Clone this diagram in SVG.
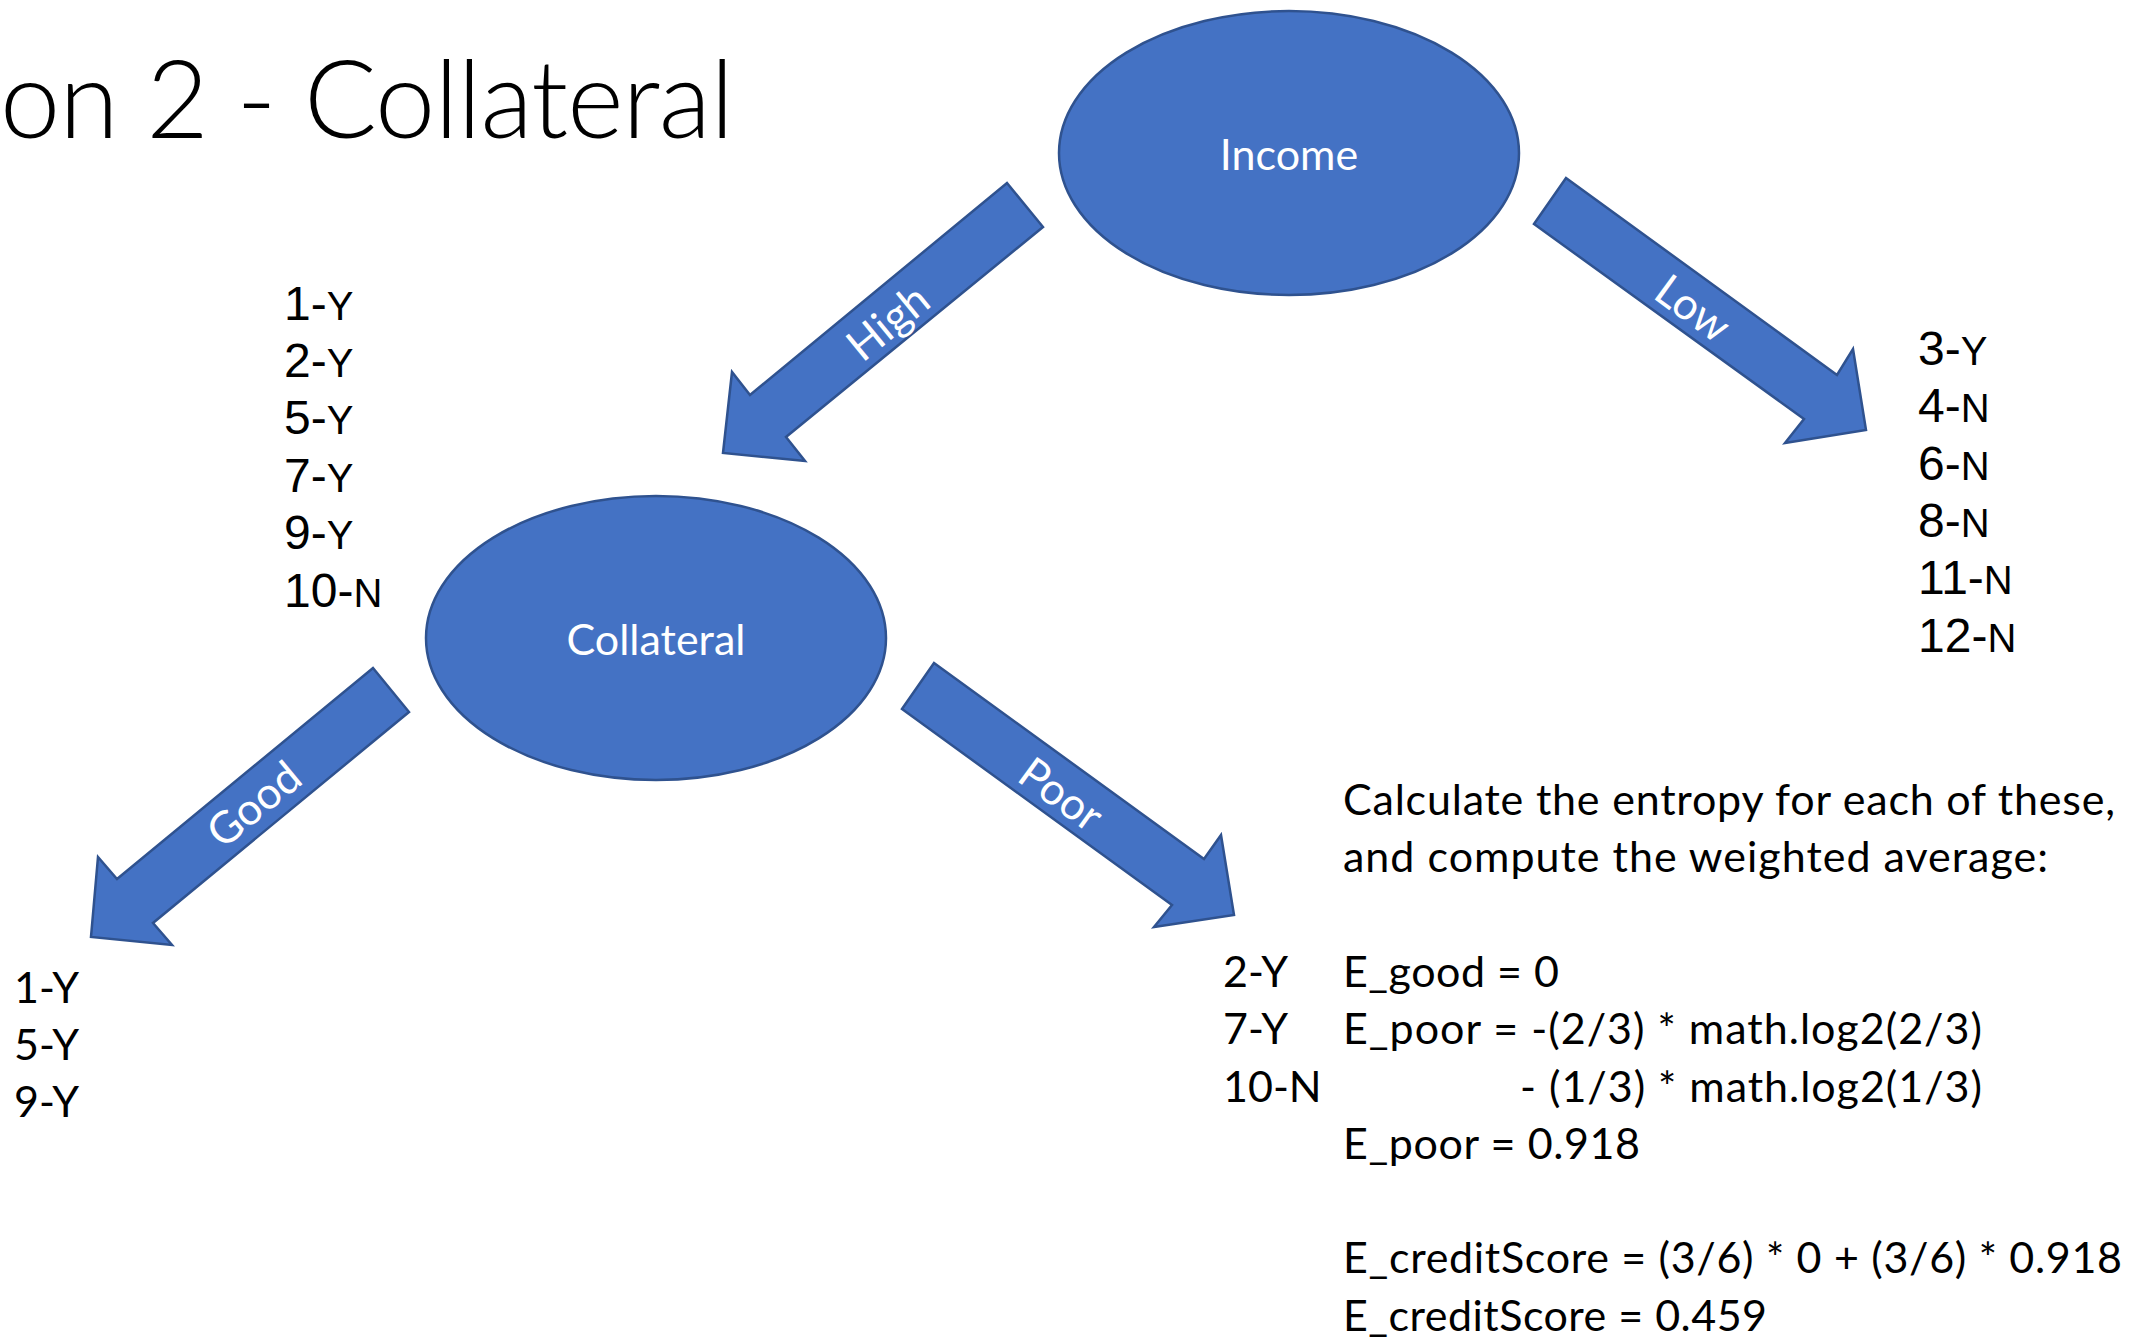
<svg xmlns="http://www.w3.org/2000/svg" width="2147" height="1339" viewBox="0 0 2147 1339">
  <style>
    .node { fill: #4472C4; stroke: #2F528F; stroke-width: 2.5; }
    .arrow { fill: #4472C4; stroke: #2F528F; stroke-width: 2.5; stroke-linejoin: miter; }
    .nlabel { font-family: Lato, "Open Sans", sans-serif; font-size: 43px; fill: #FFFFFF; text-anchor: middle; }
    .alabel { font-family: Lato, "Open Sans", sans-serif; font-size: 44px; fill: #FFFFFF; text-anchor: middle; dominant-baseline: central; }
    .title { font-family: Lato, "Open Sans", sans-serif; font-size: 108px; font-weight: 300; fill: #000000; }
    .num { font-family: "Liberation Sans", Arial, sans-serif; font-size: 48px; fill: #000000; }
    .cls { font-size: 40px; }
    .body { font-family: Lato, "Open Sans", sans-serif; font-size: 43px; fill: #000000; }
  </style>
  <rect width="2147" height="1339" fill="#FFFFFF"/>

  <text class="title" x="0" y="138" textLength="734">on 2 - Collateral</text>

  <!-- branch arrows with their labels -->
  <g id="connectors">
    <g id="edge-high">
      <polygon class="arrow" points="1007,183 1043,227 786,437 805,461 723,453 732,372 750,395"/>
      <text class="alabel" transform="translate(887,321) rotate(-39.5)">High</text>
    </g>
    <g id="edge-low">
      <polygon class="arrow" points="1566,178 1837,375 1853,349 1866,430 1785,443 1804,419 1534,224"/>
      <text class="alabel" transform="translate(1694,307) rotate(36)">Low</text>
    </g>
    <g id="edge-good">
      <polygon class="arrow" points="373,668 409,712 153,923 172,945 91,937 98,857 117,879"/>
      <text class="alabel" transform="translate(253,803) rotate(-39.5)">Good</text>
    </g>
    <g id="edge-poor">
      <polygon class="arrow" points="934,663 1204,859 1221,835 1234,915 1154,927 1172,905 902,709"/>
      <text class="alabel" transform="translate(1062,793) rotate(36)">Poor</text>
    </g>
  </g>

  <!-- decision nodes -->
  <g id="node-income">
    <ellipse class="node" cx="1289" cy="153" rx="230" ry="142"/>
    <text class="nlabel" x="1289" y="170">Income</text>
  </g>
  <g id="node-collateral">
    <ellipse class="node" cx="656" cy="638" rx="230" ry="142"/>
    <text class="nlabel" x="656" y="655">Collateral</text>
  </g>

  <!-- sample lists at each branch -->
  <g id="leaf-high">
    <text class="num" x="284" y="320">1-<tspan class="cls">Y</tspan></text>
    <text class="num" x="284" y="377">2-<tspan class="cls">Y</tspan></text>
    <text class="num" x="284" y="434">5-<tspan class="cls">Y</tspan></text>
    <text class="num" x="284" y="492">7-<tspan class="cls">Y</tspan></text>
    <text class="num" x="284" y="549">9-<tspan class="cls">Y</tspan></text>
    <text class="num" x="284" y="607">10-<tspan class="cls">N</tspan></text>
  </g>
  <g id="leaf-low">
    <text class="num" x="1918" y="365">3-<tspan class="cls">Y</tspan></text>
    <text class="num" x="1918" y="422">4-<tspan class="cls">N</tspan></text>
    <text class="num" x="1918" y="480">6-<tspan class="cls">N</tspan></text>
    <text class="num" x="1918" y="537">8-<tspan class="cls">N</tspan></text>
    <text class="num" x="1918" y="594">11-<tspan class="cls">N</tspan></text>
    <text class="num" x="1918" y="652">12-<tspan class="cls">N</tspan></text>
  </g>
  <g id="leaf-good">
    <text class="body" x="14" y="1003">1-Y</text>
    <text class="body" x="14" y="1060">5-Y</text>
    <text class="body" x="14" y="1117">9-Y</text>
  </g>
  <g id="leaf-poor">
    <text class="body" x="1223" y="987">2-Y</text>
    <text class="body" x="1223" y="1044">7-Y</text>
    <text class="body" x="1223" y="1102">10-N</text>
  </g>

  <!-- entropy working -->
  <g id="calc">
    <text class="body" x="1343" y="815" textLength="772">Calculate the entropy for each of these,</text>
    <text class="body" x="1343" y="872" textLength="705">and compute the weighted average:</text>
    <text class="body" x="1343" y="987" textLength="216">E_good = 0</text>
    <text class="body" x="1343" y="1044" textLength="639">E_poor = -(2/3) * math.log2(2/3)</text>
    <text class="body" x="1520" y="1102" textLength="462">- (1/3) * math.log2(1/3)</text>
    <text class="body" x="1343" y="1159" textLength="297">E_poor = 0.918</text>
    <text class="body" x="1343" y="1273" textLength="779">E_creditScore = (3/6) * 0 + (3/6) * 0.918</text>
    <text class="body" x="1343" y="1331" textLength="424">E_creditScore = 0.459</text>
  </g>
</svg>
